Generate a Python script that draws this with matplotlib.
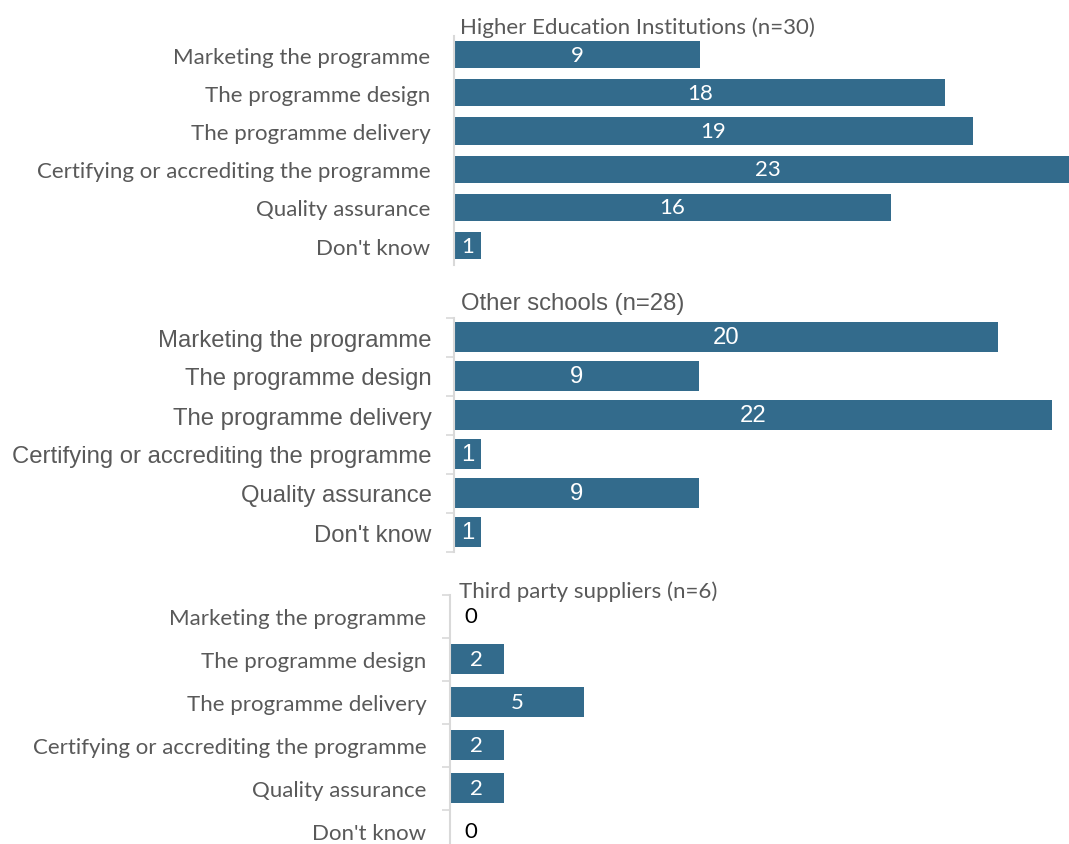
import matplotlib
matplotlib.use("Agg")
import matplotlib.pyplot as plt

categories = ["Marketing the programme", "The programme design", "The programme delivery",
              "Certifying or accrediting the programme", "Quality assurance", "Don't know"]
titles = ["Higher Education Institutions (n=30)", "Other schools (n=28)", "Third party suppliers (n=6)"]
hei_values = [9, 18, 19, 23, 16, 1]
schools_values = [20, 9, 22, 1, 9, 1]
suppliers_values = [0, 2, 5, 2, 2, 0]

W, H = 1069, 845
fig = plt.figure(figsize=(W / 100, H / 100), dpi=100)
BAR = "#336b8c"
GREY = "#595959"
AXC = "#d9d9d9"

panels = [
    dict(vals=hei_values, left=454, top=36.5, sp=38.2, ppu=27.3, bh=0.71, fam="Lato", fs=16, ticks=False,
         title_xy=(460, 28), pad=17),
    dict(vals=schools_values, left=454, top=318.5, sp=39.0, ppu=27.2, bh=0.75, fam="Liberation Sans", fs=17.2, ticks=True,
         title_xy=(461, 304), pad=16),
    dict(vals=suppliers_values, left=450, top=595.5, sp=43.0, ppu=26.8, bh=0.72, fam="Lato", fs=16, ticks=True,
         title_xy=(459, 592), pad=17),
]

for p, title in zip(panels, titles):
    height_px = p["sp"] * len(categories)
    width_px = W - p["left"]
    ax = fig.add_axes([p["left"] / W, 1 - (p["top"] + height_px) / H, width_px / W, height_px / H])
    ax.set_xlim(0, width_px / p["ppu"])
    ax.set_ylim(len(categories) - 0.5, -0.5)
    y = list(range(len(categories)))
    ax.barh(y, p["vals"], height=p["bh"], color=BAR, edgecolor="none")
    for s in ["top", "right", "bottom"]:
        ax.spines[s].set_visible(False)
    ax.spines["left"].set_color(AXC)
    ax.spines["left"].set_linewidth(1.5)
    ax.set_xticks([])
    ax.set_yticks(y)
    ax.set_yticklabels(categories, fontfamily=p["fam"], fontsize=p["fs"], color=GREY)
    ax.tick_params(axis="y", which="major", length=0, pad=p["pad"])
    if p["ticks"]:
        ax.set_yticks([i - 0.5 for i in range(len(categories) + 1)], minor=True)
        ax.tick_params(axis="y", which="minor", length=6, width=1.2, color=AXC)
    for i, v in enumerate(p["vals"]):
        if v > 0:
            ax.text(v / 2, i, str(v), ha="center", va="center", color="white",
                    fontfamily=p["fam"], fontsize=p["fs"])
        else:
            ax.annotate(str(v), (0, i), xytext=(15, 0), textcoords="offset points",
                        ha="center", va="center", color="black", fontfamily=p["fam"], fontsize=p["fs"])
    fig.text(p["title_xy"][0] / W, 1 - p["title_xy"][1] / H, title, ha="left", va="center",
             fontfamily=p["fam"], fontsize=p["fs"], color=GREY)

fig.savefig("out.png", dpi=100)
